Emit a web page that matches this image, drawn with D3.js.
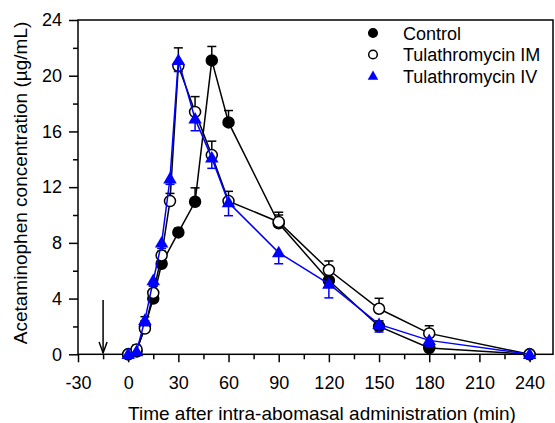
<!DOCTYPE html>
<html>
<head>
<meta charset="utf-8">
<script src="https://cdnjs.cloudflare.com/ajax/libs/d3/7.8.5/d3.min.js"></script>
<style>
  body { margin: 0; background: #fff; }
  text { font-family: "Liberation Sans", Arial, sans-serif; }
</style>
</head>
<body>
<script>
var width = 555,
  height = 423;

// data
var timesControl = [0, 5, 10, 15, 20, 30, 40, 50, 60, 90, 120, 150, 180, 240];
var control = [0, 0.2, 2.0, 4.0, 6.5, 8.75, 10.95, 21.1, 16.65, 9.4, 5.3, 2.0, 0.45, 0];
var controlErr = [0, 0.1, 0.4, 0.4, 0.5, 0.3, 1.0, 1.0, 0.85, 0.6, 0.6, 0.4, 0.3, 0];

var timesTula = [0, 5, 10, 15, 20, 25, 30, 40, 50, 60, 90, 120, 150, 180, 240];
var tulaIM = [0, 0.35, 1.85, 4.4, 7.1, 11.0, 20.7, 17.4, 14.3, 11.0, 9.5, 6.05, 3.27, 1.5, 0];
var tulaIMErr = [0, 0.3, 0.85, 0.5, 0.3, 0.55, 1.3, 1.1, 1.0, 0.7, 0.7, 0.65, 0.75, 0.55, 0];
var tulaIV = [0, 0.2, 2.45, 5.3, 8.0, 12.6, 21.1, 16.9, 14.1, 10.9, 7.3, 5.05, 2.15, 1.0, 0];
var tulaIVErr = [0, 0.1, 0.4, 0.4, 0.4, 0.4, 0.8, 0.85, 0.75, 0.95, 0.8, 1.0, 0.55, 0.45, 0];

var xTicks = [-30, 0, 30, 60, 90, 120, 150, 180, 210, 240];
var yTicks = [0, 4, 8, 12, 16, 20, 24];
var legendLabels = ["Control", "Tulathromycin IM", "Tulathromycin IV"];
var arrowTime = -15;

var svg = d3
  .select("body")
  .append("svg")
  .attr("width", width)
  .attr("height", height);

var x = d3.scaleLinear().domain([-30, 254]).range([78, 553]);
var y = d3.scaleLinear().domain([0, 24]).range([354.3, 20]);

// frame
svg
  .append("rect")
  .attr("x", x.range()[0])
  .attr("y", y.range()[1])
  .attr("width", x.range()[1] - x.range()[0])
  .attr("height", y.range()[0] - y.range()[1])
  .attr("fill", "none")
  .attr("stroke", "#000")
  .attr("stroke-width", 1.5);

// minor ticks
var xMinor = d3.range(-15, 241, 30);
var yMinor = d3.range(2, 24, 4);
var plain = function (d) { return String(d); };

svg
  .append("g")
  .attr("transform", "translate(0," + y(0) + ")")
  .call(d3.axisBottom(x).tickValues(xTicks).tickSize(8).tickPadding(14).tickFormat(plain));
svg
  .append("g")
  .attr("transform", "translate(0," + y(0) + ")")
  .call(d3.axisBottom(x).tickValues(xMinor).tickSize(5).tickFormat(""));

svg
  .append("g")
  .attr("transform", "translate(" + x(-30) + ",0)")
  .call(d3.axisLeft(y).tickValues(yTicks).tickSize(9).tickPadding(7).tickFormat(plain));
svg
  .append("g")
  .attr("transform", "translate(" + x(-30) + ",0)")
  .call(d3.axisLeft(y).tickValues(yMinor).tickSize(5).tickFormat(""));

svg.selectAll(".domain").remove();
svg.selectAll(".tick line").attr("stroke-width", 1.5);
svg
  .selectAll(".tick text")
  .style("font-size", "18px")
  .style("font-family", "'Liberation Sans', Arial, sans-serif")
  .attr("fill", "#000");

// axis titles
svg
  .append("text")
  .attr("x", 322)
  .attr("y", 420)
  .attr("text-anchor", "middle")
  .style("font-size", "19px")
  .text("Time after intra-abomasal administration (min)");

svg
  .append("text")
  .attr("transform", "translate(27," + y(12.3) + ") rotate(-90)")
  .attr("text-anchor", "middle")
  .style("font-size", "19px")
  .text("Acetaminophen concentration (\u00b5g/mL)");

// dosing arrow
var ax = x(arrowTime);
svg
  .append("line")
  .attr("x1", ax)
  .attr("x2", ax)
  .attr("y1", y(3.9))
  .attr("y2", y(0.1))
  .attr("stroke", "#000")
  .attr("stroke-width", 1.5);
svg
  .append("path")
  .attr("d", "M" + (ax - 4) + "," + (y(0.1) - 11) + "L" + ax + "," + y(0.1) + "L" + (ax + 4) + "," + (y(0.1) - 11))
  .attr("fill", "none")
  .attr("stroke", "#000")
  .attr("stroke-width", 1.5);

var line = d3
  .line()
  .x(function (d) { return x(d.t); })
  .y(function (d) { return y(d.v); });

function zip(times, vals, errs) {
  return times.map(function (t, i) {
    return { t: t, v: vals[i], e: errs[i] };
  });
}

var series = [
  { data: zip(timesControl, control, controlErr), color: "#000", shape: "filled", dir: 1 },
  { data: zip(timesTula, tulaIM, tulaIMErr), color: "#000", shape: "open", dir: 1 },
  { data: zip(timesTula, tulaIV, tulaIVErr), color: "#0000ff", shape: "triangle", dir: -1 }
];

function drawMarker(g, shape, color, r) {
  if (shape === "triangle") {
    g.append("path")
      .attr("d", d3.symbol().type(d3.symbolTriangle).size(r * r * 2.6)())
      .attr("transform", "translate(0," + (r * 0.15) + ")")
      .attr("fill", color);
  } else {
    g.append("circle")
      .attr("r", r)
      .attr("fill", shape === "open" ? "#fff" : color)
      .attr("stroke", color)
      .attr("stroke-width", 1.5);
  }
}

series.forEach(function (s) {
  var g = svg.append("g");
  // error bars
  var eb = g
    .selectAll(".eb")
    .data(s.data.filter(function (d) { return d.e > 0; }))
    .enter()
    .append("g");
  eb.append("line")
    .attr("x1", function (d) { return x(d.t); })
    .attr("x2", function (d) { return x(d.t); })
    .attr("y1", function (d) { return y(d.v); })
    .attr("y2", function (d) { return y(d.v + s.dir * d.e); })
    .attr("stroke", s.color)
    .attr("stroke-width", 1.5);
  eb.append("line")
    .attr("x1", function (d) { return x(d.t) - 4.5; })
    .attr("x2", function (d) { return x(d.t) + 4.5; })
    .attr("y1", function (d) { return y(d.v + s.dir * d.e); })
    .attr("y2", function (d) { return y(d.v + s.dir * d.e); })
    .attr("stroke", s.color)
    .attr("stroke-width", 1.5);

  g.append("path")
    .datum(s.data)
    .attr("d", line)
    .attr("fill", "none")
    .attr("stroke", s.color)
    .attr("stroke-width", 1.5);

  g.selectAll(".pt")
    .data(s.data)
    .enter()
    .append("g")
    .attr("transform", function (d) {
      return "translate(" + x(d.t) + "," + y(d.v) + ")";
    })
    .each(function () {
      drawMarker(d3.select(this), s.shape, s.color, 5.5);
    });
});

// legend
var legend = svg.append("g").attr("transform", "translate(373,33)");
legendLabels.forEach(function (label, i) {
  var row = legend.append("g").attr("transform", "translate(0," + i * 21.5 + ")");
  drawMarker(row, series[i].shape, series[i].color, 4.3);
  row
    .append("text")
    .attr("x", 30)
    .attr("y", 6.5)
    .style("font-size", "18px")
    .text(label);
});
</script>
</body>
</html>
